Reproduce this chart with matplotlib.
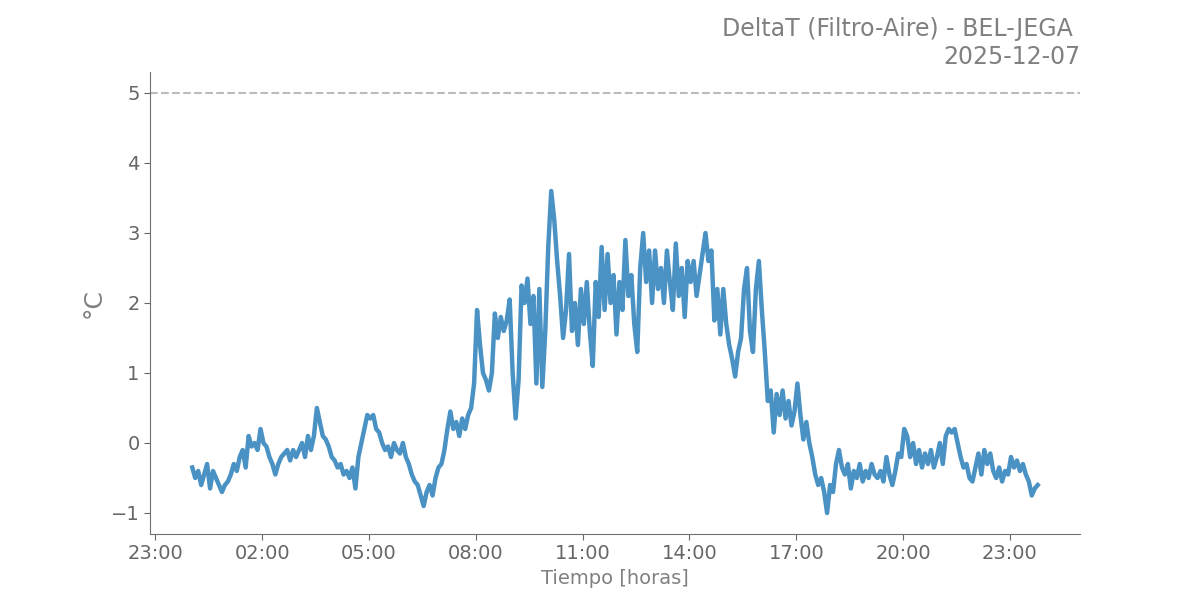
import pandas as pd
import matplotlib.pyplot as plt
import matplotlib.dates as mdates

# -------------------------------------------------------
# Data (5-minute samples)
# -------------------------------------------------------

start = "2025-12-07 00:02"

deltat = [
    # 00h
    -0.35, -0.5, -0.4, -0.6, -0.45, -0.3, -0.65, -0.4, -0.5, -0.6, -0.7, -0.6,
    # 01h
    -0.55, -0.45, -0.3, -0.4, -0.2, -0.1, -0.35, 0.1, -0.05, 0.0, -0.1, 0.2,
    # 02h
    0.0, -0.05, -0.2, -0.3, -0.45, -0.3, -0.2, -0.15, -0.1, -0.25, -0.1, -0.2,
    # 03h
    -0.1, 0.0, -0.2, 0.1, -0.1, 0.1, 0.5, 0.3, 0.1, 0.05, -0.05, -0.2,
    # 04h
    -0.25, -0.35, -0.3, -0.45, -0.4, -0.5, -0.35, -0.65, -0.2, 0.0, 0.2, 0.4,
    # 05h
    0.35, 0.4, 0.2, 0.15, 0.0, -0.1, -0.05, -0.2, 0.0, -0.1, -0.15, 0.0,
    # 06h
    -0.2, -0.3, -0.45, -0.55, -0.6, -0.75, -0.9, -0.7, -0.6, -0.75, -0.5, -0.35,
    # 07h
    -0.3, -0.1, 0.2, 0.45, 0.2, 0.3, 0.1, 0.35, 0.2, 0.4, 0.5, 0.85,
    # 08h
    1.9, 1.4, 1.0, 0.9, 0.75, 1.0, 1.85, 1.5, 1.8, 1.6, 1.75, 2.05,
    # 09h
    1.0, 0.35, 0.9, 2.25, 2.0, 2.35, 1.7, 2.1, 0.85, 2.2, 0.8, 1.6,
    # 10h
    2.8, 3.6, 3.2, 2.6, 2.1, 1.5, 1.9, 2.7, 1.6, 2.0, 1.4, 2.2,
    # 11h
    1.7, 2.3, 1.6, 1.1, 2.3, 1.8, 2.8, 1.9, 2.7, 2.0, 2.4, 1.55,
    # 12h
    2.3, 1.9, 2.9, 2.1, 2.4, 1.7, 1.3, 2.5, 3.0, 2.3, 2.75, 2.0,
    # 13h
    2.75, 2.2, 2.5, 2.0, 2.75, 2.3, 1.9, 2.85, 2.1, 2.5, 1.8, 2.6,
    # 14h
    2.3, 2.6, 2.1, 2.4, 2.7, 3.0, 2.6, 2.75, 1.75, 2.2, 1.55, 2.2,
    # 15h
    1.7, 1.4, 1.2, 0.95, 1.3, 1.5, 2.2, 2.5, 1.6, 1.3, 2.2, 2.6,
    # 16h
    1.9, 1.3, 0.6, 0.75, 0.15, 0.7, 0.4, 0.75, 0.35, 0.6, 0.25, 0.45,
    # 17h
    0.85, 0.4, 0.05, 0.3, 0.0, -0.2, -0.45, -0.6, -0.5, -0.7, -1.0, -0.6,
    # 18h
    -0.7, -0.3, -0.1, -0.35, -0.45, -0.3, -0.65, -0.4, -0.5, -0.3, -0.55, -0.4,
    # 19h
    -0.5, -0.3, -0.45, -0.5, -0.4, -0.55, -0.2, -0.45, -0.6, -0.4, -0.15, -0.2,
    # 20h
    0.2, 0.1, -0.2, 0.0, -0.3, -0.1, -0.35, -0.15, -0.3, -0.1, -0.35, -0.2,
    # 21h
    0.0, -0.3, 0.1, 0.2, 0.15, 0.2, 0.0, -0.2, -0.35, -0.3, -0.5, -0.55,
    # 22h
    -0.35, -0.15, -0.45, -0.1, -0.3, -0.15, -0.4, -0.5, -0.35, -0.55, -0.4, -0.45,
    # 23h
    -0.2, -0.35, -0.25, -0.4, -0.3, -0.45, -0.55, -0.75, -0.65, -0.6,
]

limite = 5

tiempo = pd.date_range(start, periods=len(deltat), freq="5min")

# -------------------------------------------------------
# Plot
# -------------------------------------------------------

fig, ax = plt.subplots(figsize=(12, 6), dpi=100)

ax.plot(tiempo, deltat, color="#4a92c4", linewidth=3.2)
ax.axhline(limite, color="#bbbbbb", linestyle="--", linewidth=1.5)

ax.xaxis.set_major_locator(mdates.HourLocator(byhour=[23, 2, 5, 8, 11, 14, 17, 20]))
ax.xaxis.set_major_formatter(mdates.DateFormatter("%H:%M"))

ax.set_title("DeltaT (Filtro-Aire) - BEL-JEGA \n2025-12-07",
             loc="right", fontsize=17, color="gray")
ax.set_xlabel("Tiempo [horas]", fontsize=14, color="gray")
ax.set_ylabel("°C", fontsize=18, color="gray", labelpad=4)

ax.spines["top"].set_visible(False)
ax.spines["right"].set_visible(False)
ax.spines["left"].set_color("#707070")
ax.spines["bottom"].set_color("#707070")
ax.tick_params(labelsize=14, colors="#666666", length=4)

plt.savefig("out.png")
plt.close()
